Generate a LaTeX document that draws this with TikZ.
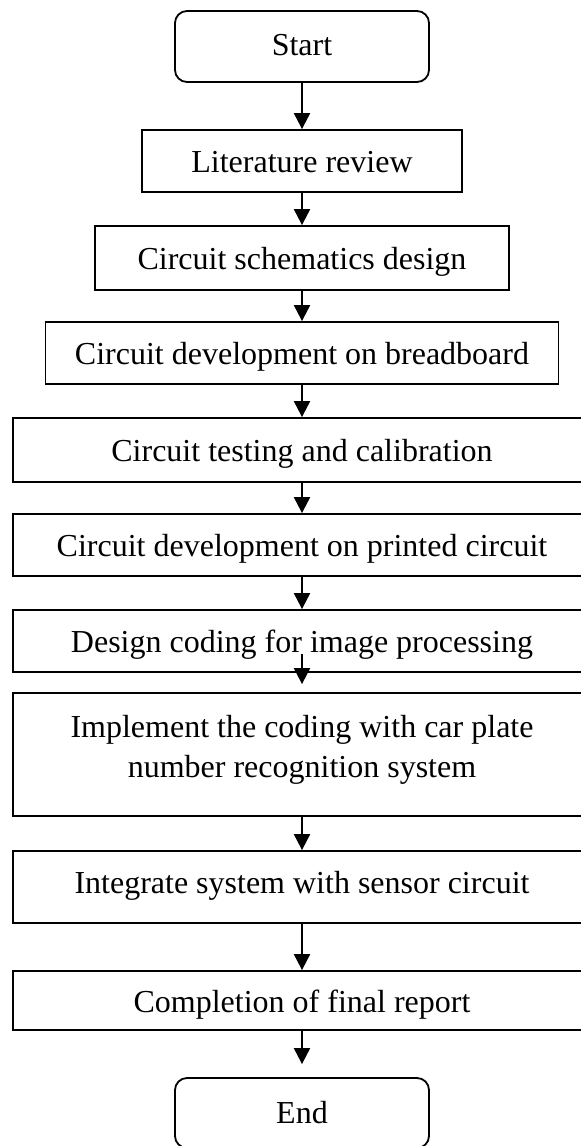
\documentclass[tikz,border=0pt]{standalone}
\usepackage{fontspec}
\setmainfont{Liberation Serif}
\usetikzlibrary{arrows.meta}
\begin{document}
\begin{tikzpicture}[x=1pt,y=-1pt,
  base/.style={draw=black,line width=1.8pt,rectangle,inner sep=0pt,anchor=center,font=\fontsize{32}{40}\selectfont},
  box/.style={base,text height=23pt,text depth=0pt},
  term/.style={box,rounded corners=12pt},
  flow/.style={line width=2pt,-{Triangle[width=16pt,length=16pt]}}]
\useasboundingbox (0,0) rectangle (581,1146);
\fill[white] (0,0) rectangle (581,1146);
\node[term,minimum width=254pt,minimum height=71pt,text depth=6pt] (start) at (302,46.5) {Start};
\node[box,minimum width=320pt,minimum height=62pt] (lit) at (302,161) {Literature review};
\node[box,minimum width=414pt,minimum height=64pt] (schem) at (302,258) {Circuit schematics design};
\node[box,minimum width=513pt,minimum height=62pt] (bread) at (302,353) {Circuit development on breadboard};
\node[box,minimum width=578pt,minimum height=64pt] (test) at (302,450) {Circuit testing and calibration};
\node[box,minimum width=578pt,minimum height=62pt] (print) at (302,545) {Circuit development on printed circuit};
\node[box,minimum width=578pt,minimum height=62pt] (design) at (302,641) {Design coding for image processing};
\node[base,align=center,minimum width=578pt,minimum height=123pt] (impl) at (302,754.5) {Implement the coding with car plate\\number recognition system\rule[-17pt]{0pt}{17pt}};
\node[box,minimum width=578pt,minimum height=72pt,text depth=11pt] (integ) at (302,887) {Integrate system with sensor circuit};
\node[box,minimum width=578pt,minimum height=59pt] (compl) at (302,1000.5) {Completion of final report};
\node[term,minimum width=254pt,minimum height=70pt,text depth=3pt] (stop) at (302,1113) {End};
\draw[flow] (start.south) -- (lit.north);
\draw[flow] (lit.south) -- (schem.north);
\draw[flow] (schem.south) -- (bread.north);
\draw[flow] (bread.south) -- (test.north);
\draw[flow] (test.south) -- (print.north);
\draw[flow] (print.south) -- (design.north);
\coordinate (dfrom) at ([yshift=19pt]design.south);
\coordinate (dto) at ([yshift=8pt]impl.north);
\draw[flow] (dfrom) -- (dto);
\draw[flow] (impl.south) -- (integ.north);
\draw[flow] (integ.south) -- (compl.north);
\coordinate (eto) at ([yshift=13pt]stop.north);
\draw[flow] (compl.south) -- (eto);
\end{tikzpicture}
\end{document}
